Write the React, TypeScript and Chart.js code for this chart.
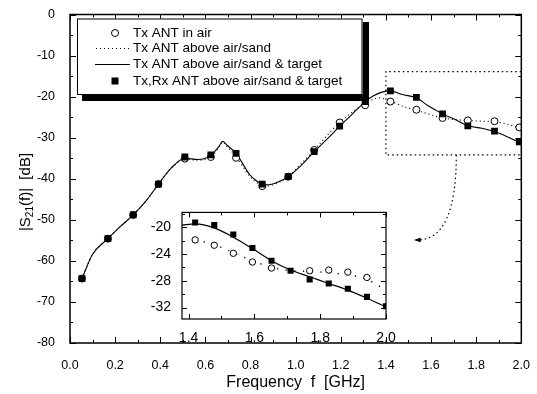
import React, { useEffect, useRef } from 'react';
import { Chart, registerables } from 'chart.js';

Chart.register(...registerables);

const FONT = 'Liberation Sans';

// ---------- labels ----------
const seriesLabels = [
  'Tx ANT in air',
  'Tx ANT above air/sand',
  'Tx ANT above air/sand & target',
  'Tx,Rx ANT above air/sand & target',
];
const xTitle = 'Frequency  f  [GHz]';

// ---------- tick labels ----------
const mainXTicks = [0.0, 0.2, 0.4, 0.6, 0.8, 1.0, 1.2, 1.4, 1.6, 1.8, 2.0];
const mainYTicks = [-80, -70, -60, -50, -40, -30, -20, -10, 0];
const insetXTicks = [1.4, 1.6, 1.8, 2.0];
const insetYTicks = [-32, -28, -24, -20];

// ---------- main chart data ----------
const mainFreq = [0.053, 0.168, 0.28, 0.392, 0.509, 0.624, 0.736, 0.852, 0.967, 1.082, 1.195, 1.308, 1.42, 1.535, 1.651, 1.763, 1.881, 1.991];
const airDb = [-64.3, -54.6, -48.8, -41.3, -35.1, -34.7, -34.9, -41.8, -39.5, -33.0, -26.3, -22.1, -21.2, -23.2, -25.2, -25.8, -26.0, -27.5];
const rxDb = [-64.3, -54.6, -48.8, -41.3, -34.7, -34.2, -33.8, -41.3, -39.5, -33.4, -27.2, -21.2, -18.6, -20.2, -24.2, -27.1, -28.4, -31.0];

const sandFreq = [0.053, 0.1, 0.168, 0.22, 0.28, 0.34, 0.392, 0.45, 0.509, 0.568, 0.624, 0.659, 0.677, 0.697, 0.736, 0.795, 0.826, 0.864, 0.902, 0.967, 1.02, 1.082, 1.14, 1.195, 1.25, 1.308, 1.369, 1.42, 1.487, 1.535, 1.597, 1.651, 1.707, 1.763, 1.825, 1.881, 1.943, 2.0];
const sandDb = [-64.3, -58.4, -54.6, -51.8, -48.8, -45.2, -41.3, -37.4, -35.2, -35.5, -34.7, -32.4, -31.0, -32.2, -34.6, -39.3, -40.9, -41.8, -41.4, -39.5, -36.6, -33.0, -29.4, -26.3, -23.8, -21.8, -20.3, -21.1, -22.6, -23.3, -24.4, -25.2, -25.6, -25.8, -26.0, -26.1, -26.8, -27.8];

const targetFreq = [0.053, 0.1, 0.168, 0.22, 0.28, 0.34, 0.392, 0.45, 0.509, 0.568, 0.624, 0.659, 0.677, 0.697, 0.736, 0.795, 0.826, 0.864, 0.902, 0.967, 1.02, 1.082, 1.14, 1.195, 1.25, 1.308, 1.345, 1.383, 1.42, 1.472, 1.535, 1.589, 1.651, 1.707, 1.763, 1.825, 1.881, 1.943, 2.0];
const targetDb = [-64.3, -58.4, -54.6, -51.8, -48.8, -45.2, -41.3, -37.3, -35.0, -35.3, -34.3, -32.2, -30.9, -31.9, -33.8, -38.9, -40.5, -41.5, -41.2, -39.5, -37.0, -33.4, -30.3, -27.2, -24.3, -21.2, -19.8, -18.9, -18.6, -19.5, -20.3, -22.3, -24.2, -25.6, -27.1, -27.7, -28.5, -29.9, -31.4];

// ---------- inset data ----------
const insetFreq = [1.42, 1.478, 1.536, 1.594, 1.652, 1.71, 1.768, 1.826, 1.884, 1.942, 2.0];
const insetAirDb = [-21.9, -22.7, -23.9, -25.2, -26.1, null, -26.5, -26.4, -26.7, -27.5, null];
const insetRxDb = [-19.3, -19.7, -21.1, -23.1, -25.0, -26.5, -27.8, -28.4, -29.2, -30.4, -31.8];
const insetLineFreq = [1.38, 1.42, 1.478, 1.536, 1.594, 1.652, 1.71, 1.768, 1.826, 1.884, 1.942, 2.0];
const insetSandDb = [null, -21.9, -22.6, -23.8, -25.0, -26.0, -26.5, -26.6, -26.8, -27.1, -27.8, -29.4];
const insetTargetDb = [-19.7, -19.5, -20.1, -21.5, -23.2, -25.0, -26.4, -27.4, -28.4, -29.4, -30.6, -31.9];

// ---------- annotation anchors (data units) ----------
const zoomBoxX = [1.40, 2.0];
const zoomBoxY = [-13.9, -34.2];
const arrowFrom = [1.712, -34.2];
const arrowTo = [1.523, -54.9];

const pts = (xs: number[], ys: (number | null)[]) =>
  xs.map((x, i) => ({ x, y: ys[i] })).filter((p) => p.y !== null) as { x: number; y: number }[];

function drawFrameTicks(chart: any, xStep: number, yStep: number, major: number, minor: number, lw: number) {
  const { ctx, chartArea: a, scales } = chart;
  const xs = scales.x, ys = scales.y;
  ctx.save();
  ctx.strokeStyle = '#000';
  ctx.lineWidth = 1;
  ctx.beginPath();
  const i0 = Math.ceil(xs.min / xStep - 1e-9), i1 = Math.floor(xs.max / xStep + 1e-9);
  for (let i = i0; i <= i1; i++) {
    const px = Math.round(xs.getPixelForValue(i * xStep)) + 0.5;
    const len = i % 2 === 0 ? major : minor;
    ctx.moveTo(px, a.bottom); ctx.lineTo(px, a.bottom - len);
    ctx.moveTo(px, a.top); ctx.lineTo(px, a.top + len);
  }
  const j0 = Math.ceil(ys.min / yStep - 1e-9), j1 = Math.floor(ys.max / yStep + 1e-9);
  for (let j = j0; j <= j1; j++) {
    const py = Math.round(ys.getPixelForValue(j * yStep)) + 0.5;
    const len = j % 2 === 0 ? major : minor;
    ctx.moveTo(a.left, py); ctx.lineTo(a.left + len, py);
    ctx.moveTo(a.right, py); ctx.lineTo(a.right - len, py);
  }
  ctx.stroke();
  ctx.lineWidth = lw;
  ctx.strokeRect(a.left, a.top, a.right - a.left, a.bottom - a.top);
  ctx.restore();
}

const mainDecor = {
  id: 'mainDecor',
  afterDraw(chart: any) {
    const { ctx, chartArea: a, scales } = chart;
    const xs = scales.x, ys = scales.y;
    drawFrameTicks(chart, 0.1, 5, 6, 3, 1.5);

    ctx.save();
    // dotted zoom box
    ctx.strokeStyle = '#000';
    ctx.lineWidth = 1.2;
    ctx.setLineDash([1.5, 3]);
    const bx0 = xs.getPixelForValue(zoomBoxX[0]), bx1 = xs.getPixelForValue(zoomBoxX[1]);
    const by0 = ys.getPixelForValue(zoomBoxY[0]), by1 = ys.getPixelForValue(zoomBoxY[1]);
    ctx.beginPath();
    ctx.moveTo(bx1, by0); ctx.lineTo(bx0, by0); ctx.lineTo(bx0, by1); ctx.lineTo(bx1, by1);
    ctx.stroke();
    // dotted arrow
    const sx = xs.getPixelForValue(arrowFrom[0]), sy = ys.getPixelForValue(arrowFrom[1]);
    const ex = xs.getPixelForValue(arrowTo[0]), ey = ys.getPixelForValue(arrowTo[1]);
    ctx.beginPath();
    ctx.moveTo(sx, sy);
    ctx.quadraticCurveTo(sx, ey, ex + 4, ey);
    ctx.stroke();
    ctx.setLineDash([]);
    ctx.fillStyle = '#000';
    ctx.beginPath();
    ctx.moveTo(ex, ey); ctx.lineTo(ex + 7, ey - 2.2); ctx.lineTo(ex + 7, ey + 2.2); ctx.closePath();
    ctx.fill();

    // legend with shadow
    const L = 77, T = 18.5, R = 362.5, B = 95;
    ctx.fillStyle = '#000';
    ctx.fillRect(82, B, R + 6.5 - 82, 6);
    ctx.fillRect(R, 22, 6.5, B + 6 - 22);
    ctx.fillStyle = '#fff';
    ctx.fillRect(L, T, R - L, B - T);
    ctx.lineWidth = 1;
    ctx.strokeStyle = '#000';
    ctx.strokeRect(L + 0.5, T + 0.5, R - L - 1, B - T - 1);
    const rows = [33, 48.5, 64.5, 81];
    ctx.font = `13.5px "${FONT}"`;
    ctx.textBaseline = 'middle';
    ctx.textAlign = 'left';
    ctx.fillStyle = '#000';
    seriesLabels.forEach((t, i) => ctx.fillText(t, 133, rows[i]));
    // symbols
    ctx.lineWidth = 1;
    ctx.beginPath(); ctx.arc(115, rows[0], 3.5, 0, Math.PI * 2); ctx.fillStyle = '#fff'; ctx.fill(); ctx.stroke();
    ctx.lineWidth = 1.2; ctx.setLineDash([1, 3]);
    ctx.beginPath(); ctx.moveTo(96, rows[1]); ctx.lineTo(129, rows[1]); ctx.stroke();
    ctx.setLineDash([]); ctx.lineWidth = 1.1;
    ctx.beginPath(); ctx.moveTo(95, rows[2]); ctx.lineTo(130, rows[2]); ctx.stroke();
    ctx.fillStyle = '#000';
    ctx.fillRect(111.5, rows[3] - 3.5, 7, 7);

    // axis titles
    ctx.font = `16px "${FONT}"`;
    ctx.textAlign = 'center';
    ctx.textBaseline = 'middle';
    ctx.fillText(xTitle, (a.left + a.right) / 2, 383);

    ctx.translate(26, 192);
    ctx.rotate(-Math.PI / 2);
    const big = `15px "${FONT}"`, small = `10px "${FONT}"`;
    const parts: [string, string, number][] = [['|S', big, 0], ['21', small, 4], ['(f)|  [dB]', big, 0]];
    let total = 0;
    parts.forEach(([t, f]) => { ctx.font = f; total += ctx.measureText(t).width; });
    let x = -total / 2;
    ctx.textAlign = 'left';
    parts.forEach(([t, f, dy]) => { ctx.font = f; ctx.fillText(t, x, dy); x += ctx.measureText(t).width; });
    ctx.restore();
  },
};

const insetDecor = {
  id: 'insetDecor',
  beforeDatasetsDraw(chart: any) {
    const { ctx, chartArea: a } = chart;
    ctx.save();
    ctx.fillStyle = '#fff';
    ctx.fillRect(a.left, a.top, a.right - a.left, a.bottom - a.top);
    ctx.restore();
  },
  afterDraw(chart: any) {
    drawFrameTicks(chart, 0.1, 2, 5, 3, 1.2);
  },
};

const tickFont = (size: number) => ({ family: FONT, size });

export default function App() {
  const mainRef = useRef<HTMLCanvasElement>(null);
  const insetRef = useRef<HTMLCanvasElement>(null);

  useEffect(() => {
    const main = new Chart(mainRef.current as HTMLCanvasElement, {
      type: 'scatter',
      data: {
        datasets: [
          {
            label: seriesLabels[3], data: pts(mainFreq, rxDb), order: 0,
            pointStyle: 'rect', pointRadius: 4.8, backgroundColor: '#000', borderColor: '#000', borderWidth: 0,
          },
          {
            label: seriesLabels[0], data: pts(mainFreq, airDb), order: 1,
            pointStyle: 'circle', pointRadius: 3.5, backgroundColor: '#fff', borderColor: '#000', borderWidth: 1,
          },
          {
            label: seriesLabels[2], data: pts(targetFreq, targetDb), order: 2, showLine: true,
            pointRadius: 0, borderColor: '#000', borderWidth: 1.1, cubicInterpolationMode: 'monotone',
          },
          {
            label: seriesLabels[1], data: pts(sandFreq, sandDb), order: 3, showLine: true,
            pointRadius: 0, borderColor: '#000', borderWidth: 1.2, borderDash: [1, 3], cubicInterpolationMode: 'monotone',
          },
        ] as any,
      },
      options: {
        animation: false,
        responsive: false,
        maintainAspectRatio: false,
        events: [],
        layout: { padding: { top: 12, right: 14, left: 0, bottom: 0 } },
        plugins: { legend: { display: false }, tooltip: { enabled: false } },
        scales: {
          x: {
            type: 'linear', min: 0, max: 2,
            grid: { display: false }, border: { display: false },
            afterFit: (s: any) => { s.height = 51; },
            afterBuildTicks: (s: any) => { s.ticks = mainXTicks.map((v) => ({ value: v })); },
            ticks: { font: tickFont(12.5), color: '#000', padding: 7, maxRotation: 0, autoSkip: false, callback: (v: any) => Number(v).toFixed(1) },
          },
          y: {
            type: 'linear', min: -80, max: 0,
            grid: { display: false }, border: { display: false },
            afterFit: (s: any) => { s.width = 70; },
            afterBuildTicks: (s: any) => { s.ticks = mainYTicks.map((v) => ({ value: v })); },
            ticks: { font: tickFont(12.5), color: '#000', padding: 7, autoSkip: false, callback: (v: any) => String(v) },
          },
        },
      } as any,
      plugins: [mainDecor],
    });

    const inset = new Chart(insetRef.current as HTMLCanvasElement, {
      type: 'scatter',
      data: {
        datasets: [
          {
            label: seriesLabels[3], data: pts(insetFreq, insetRxDb), order: 0,
            pointStyle: 'rect', pointRadius: 4.3, backgroundColor: '#000', borderColor: '#000', borderWidth: 0,
          },
          {
            label: seriesLabels[0], data: pts(insetFreq, insetAirDb), order: 1,
            pointStyle: 'circle', pointRadius: 3.2, backgroundColor: '#fff', borderColor: '#000', borderWidth: 1,
          },
          {
            label: seriesLabels[2], data: pts(insetLineFreq, insetTargetDb), order: 2, showLine: true,
            pointRadius: 0, borderColor: '#000', borderWidth: 1.2, cubicInterpolationMode: 'monotone',
          },
          {
            label: seriesLabels[1], data: pts(insetLineFreq, insetSandDb), order: 3, showLine: true,
            pointRadius: 0, borderColor: '#000', borderWidth: 1.4, borderDash: [1.2, 7.5], cubicInterpolationMode: 'monotone',
          },
        ] as any,
      },
      options: {
        animation: false,
        responsive: false,
        maintainAspectRatio: false,
        events: [],
        layout: { padding: { top: 4, right: 14, left: 0, bottom: 0 } },
        plugins: { legend: { display: false }, tooltip: { enabled: false } },
        scales: {
          x: {
            type: 'linear', min: 1.38, max: 2.0,
            grid: { display: false }, border: { display: false },
            afterFit: (s: any) => { s.height = 26; },
            afterBuildTicks: (s: any) => { s.ticks = insetXTicks.map((v) => ({ value: v })); },
            ticks: { font: tickFont(14), color: '#000', padding: 3, maxRotation: 0, autoSkip: false, callback: (v: any) => Number(v).toFixed(1) },
          },
          y: {
            type: 'linear', min: -33.7, max: -17.8,
            grid: { display: false }, border: { display: false },
            afterFit: (s: any) => { s.width = 40; },
            afterBuildTicks: (s: any) => { s.ticks = insetYTicks.map((v) => ({ value: v })); },
            ticks: { font: tickFont(14), color: '#000', padding: 3, autoSkip: false, callback: (v: any) => String(v) },
          },
        },
      } as any,
      plugins: [insetDecor],
    });

    return () => {
      main.destroy();
      inset.destroy();
    };
  }, []);

  return (
    <div style={{ position: 'fixed', left: 0, top: 0, width: 537, height: 394, background: '#fff' }}>
      <canvas ref={mainRef} width={537} height={394} style={{ position: 'absolute', left: 0, top: 0, width: 537, height: 394 }} />
      <canvas ref={insetRef} width={258} height={144} style={{ position: 'absolute', left: 142, top: 201, width: 258, height: 144 }} />
    </div>
  );
}
